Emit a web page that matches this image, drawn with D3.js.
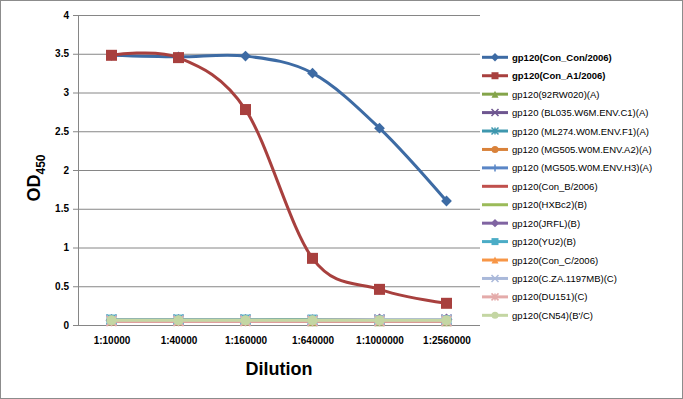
<!DOCTYPE html>
<html>
<head>
<script src="https://cdnjs.cloudflare.com/ajax/libs/d3/7.8.5/d3.min.js"></script>
<style>
  body { margin: 0; background: #fff; }
  text { font-family: "Liberation Sans", Arial, sans-serif; }
</style>
</head>
<body>
<div id="chart"></div>
<script>
// data
const dilutions = ["1:10000", "1:40000", "1:160000", "1:640000", "1:1000000", "1:2560000"];
const yTicks = [0, 0.5, 1, 1.5, 2, 2.5, 3, 3.5, 4];

const seriesNames = [
  "gp120(Con_Con/2006)", "gp120(Con_A1/2006)", "gp120(92RW020)(A)",
  "gp120 (BL035.W6M.ENV.C1)(A)", "gp120 (ML274.W0M.ENV.F1)(A)",
  "gp120 (MG505.W0M.ENV.A2)(A)", "gp120 (MG505.W0M.ENV.H3)(A)",
  "gp120(Con_B/2006)", "gp120(HXBc2)(B)", "gp120(JRFL)(B)", "gp120(YU2)(B)",
  "gp120(Con_C/2006)", "gp120(C.ZA.1197MB)(C)", "gp120(DU151)(C)", "gp120(CN54)(B'/C)"
];
const conCon   = [3.48, 3.46, 3.47, 3.25, 2.54, 1.60];
const conA1    = [3.48, 3.45, 2.78, 0.86, 0.46, 0.28];
const rw020    = [0.06, 0.06, 0.06, 0.05, 0.05, 0.05];
const bl035    = [0.06, 0.06, 0.06, 0.06, 0.07, 0.07];
const ml274    = [0.07, 0.07, 0.07, 0.06, 0.06, 0.06];
const mg505a2  = [0.06, 0.06, 0.06, 0.06, 0.06, 0.06];
const mg505h3  = [0.06, 0.06, 0.06, 0.06, 0.07, 0.07];
const conB     = [0.05, 0.05, 0.05, 0.05, 0.05, 0.05];
const hxbc2    = [0.06, 0.06, 0.06, 0.06, 0.06, 0.06];
const jrfl     = [0.06, 0.06, 0.06, 0.06, 0.07, 0.07];
const yu2      = [0.07, 0.07, 0.07, 0.07, 0.06, 0.06];
const conC     = [0.06, 0.06, 0.06, 0.06, 0.06, 0.06];
const cza      = [0.06, 0.06, 0.06, 0.06, 0.07, 0.07];
const du151    = [0.05, 0.05, 0.05, 0.05, 0.05, 0.05];
const cn54     = [0.06, 0.06, 0.06, 0.06, 0.06, 0.06];
const seriesValues = [conCon, conA1, rw020, bl035, ml274, mg505a2, mg505h3,
  conB, hxbc2, jrfl, yu2, conC, cza, du151, cn54];

const colors = ["#3D6BA4", "#A8403E", "#84A44A", "#6E5690", "#3E97AE", "#D9823A", "#5A86C6",
  "#C0504D", "#9BBB59", "#8064A2", "#4BACC6", "#F79646", "#AAB9DA", "#E4ABAA", "#C4D6A3"];
const markers = ["diamond", "square", "triangle", "x", "star", "circle", "plus",
  null, null, "diamond", "square", "triangle", "x", "star", "circle"];

const W = 683, H = 399;
const margin = { left: 78, right: 203, top: 15, bottom: 74 };

const svg = d3.select("#chart").append("svg")
  .attr("width", W).attr("height", H);

svg.append("rect")
  .attr("x", 0.5).attr("y", 0.5).attr("width", W - 1).attr("height", H - 1)
  .attr("fill", "#fff").attr("stroke", "#8c8c8c");

const x = d3.scalePoint()
  .domain(dilutions)
  .range([margin.left, W - margin.right])
  .padding(0.5);

const y = d3.scaleLinear()
  .domain([0, 4])
  .range([H - margin.bottom, margin.top]);

// gridlines + y ticks
svg.append("g")
  .attr("transform", `translate(${margin.left},0)`)
  .call(d3.axisLeft(y).tickValues(yTicks).tickSize(-(W - margin.left - margin.right)).tickPadding(9).tickFormat(d3.format("")))
  .call(g => g.select(".domain").remove())
  .call(g => g.selectAll(".tick line").attr("stroke", "#868686"))
  .call(g => g.selectAll(".tick line").clone().attr("x1", -5).attr("x2", 0))
  .call(g => g.selectAll(".tick text").attr("font-size", 10).attr("font-weight", "bold").attr("fill", "#000")
    .attr("font-family", "Liberation Sans, Arial, sans-serif"));

// y axis line
svg.append("line")
  .attr("x1", margin.left + 0.5).attr("x2", margin.left + 0.5)
  .attr("y1", y(4)).attr("y2", y(0))
  .attr("stroke", "#868686");

// x labels
svg.append("g")
  .attr("transform", `translate(0,${y(0)})`)
  .call(d3.axisBottom(x).tickSize(0).tickPadding(12))
  .call(g => g.select(".domain").remove())
  .call(g => g.selectAll(".tick text").attr("font-size", 10).attr("font-weight", "bold").attr("fill", "#000")
    .attr("font-family", "Liberation Sans, Arial, sans-serif"));

// axis titles
svg.append("text")
  .attr("x", x.range()[0] + (x.range()[1] - x.range()[0]) / 2)
  .attr("y", 375)
  .attr("text-anchor", "middle")
  .attr("font-size", 18).attr("font-weight", "bold")
  .text("Dilution");

const yt = svg.append("text")
  .attr("transform", "translate(40,178) rotate(-90)")
  .attr("text-anchor", "middle")
  .attr("font-size", 18).attr("font-weight", "bold");
yt.append("tspan").text("OD");
yt.append("tspan").attr("font-size", 12).attr("dy", 5).text("450");

// marker drawing
function drawMarker(g, type, color, size) {
  const s = size;
  if (type === "diamond") {
    g.append("path").attr("d", `M0,${-s * 0.6}L${s * 0.6},0L0,${s * 0.6}L${-s * 0.6},0Z`).attr("fill", color);
  } else if (type === "square") {
    g.append("rect").attr("x", -s / 2).attr("y", -s / 2).attr("width", s).attr("height", s).attr("fill", color);
  } else if (type === "triangle") {
    g.append("path").attr("d", `M0,${-s / 2}L${s / 2},${s / 2}L${-s / 2},${s / 2}Z`).attr("fill", color);
  } else if (type === "circle") {
    g.append("circle").attr("r", s / 2).attr("fill", color);
  } else if (type === "x") {
    g.append("path").attr("d", `M${-s / 2},${-s / 2}L${s / 2},${s / 2}M${s / 2},${-s / 2}L${-s / 2},${s / 2}`)
      .attr("stroke", color).attr("stroke-width", 1.5);
  } else if (type === "star") {
    g.append("path").attr("d", `M${-s / 2},${-s / 2}L${s / 2},${s / 2}M${s / 2},${-s / 2}L${-s / 2},${s / 2}M0,${-s / 2}L0,${s / 2}`)
      .attr("stroke", color).attr("stroke-width", 1.5);
  } else if (type === "plus") {
    g.append("path").attr("d", `M${-s / 2},0L${s / 2},0M0,${-s / 2}L0,${s / 2}`)
      .attr("stroke", color).attr("stroke-width", 1.5);
  }
}

const line = d3.line()
  .x((d, i) => x(dilutions[i]))
  .y(d => y(d))
  .curve(d3.curveCatmullRom.alpha(0));

// draw low series first, then the two main ones on top
const order = d3.range(2, seriesValues.length).concat([0, 1]);
order.forEach(k => {
  const vals = seriesValues[k];
  svg.append("path")
    .datum(vals)
    .attr("d", line)
    .attr("fill", "none")
    .attr("stroke", colors[k])
    .attr("stroke-width", 3);
  if (markers[k]) {
    vals.forEach((v, i) => {
      const g = svg.append("g").attr("transform", `translate(${x(dilutions[i])},${y(v)})`);
      let size = markers[k] === "square" ? (k === 1 ? 11 : 10) : 10;
      if (k === 0) size = 9;
      drawMarker(g, markers[k], colors[k], size);
    });
  }
});

// legend
const legend = svg.append("g");
seriesNames.forEach((name, k) => {
  const ly = 57.3 + k * 18.43;
  legend.append("line")
    .attr("x1", 482).attr("x2", 508).attr("y1", ly).attr("y2", ly)
    .attr("stroke", colors[k]).attr("stroke-width", 3);
  if (markers[k]) {
    const g = legend.append("g").attr("transform", `translate(495,${ly})`);
    drawMarker(g, markers[k], colors[k], 7);
  }
  legend.append("text")
    .attr("x", 512).attr("y", ly + 3.5)
    .attr("font-size", 9.5)
    .attr("font-weight", k < 2 ? "bold" : "normal")
    .text(name);
});
</script>
</body>
</html>
